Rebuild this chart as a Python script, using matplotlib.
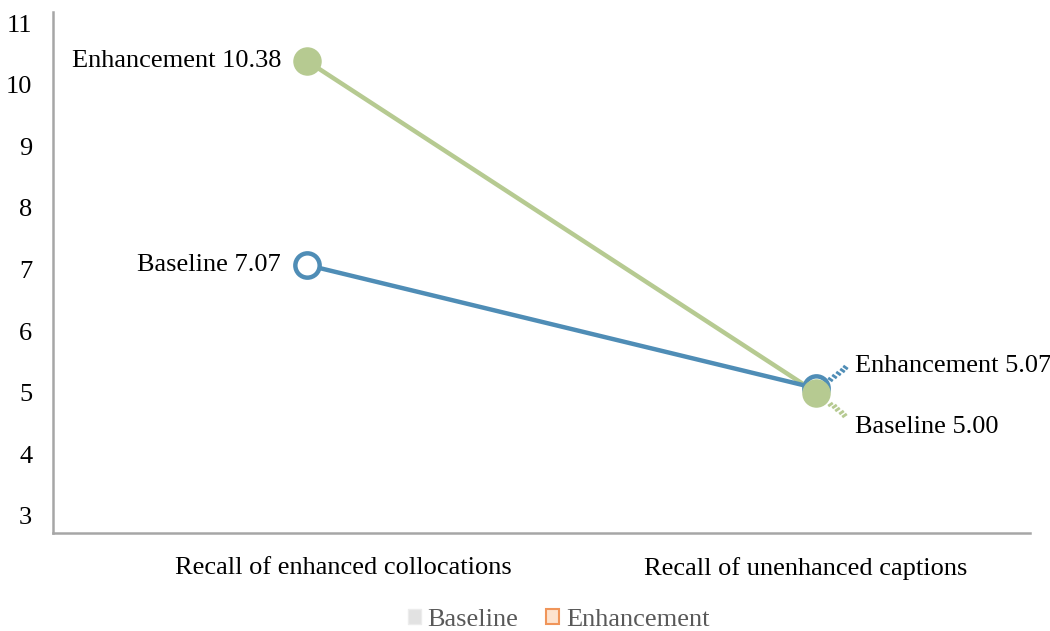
import matplotlib.pyplot as plt
from matplotlib.patches import Patch
from matplotlib.transforms import offset_copy

plt.rcParams['font.family'] = ['Liberation Serif', 'DejaVu Serif']

categories = ['Recall of enhanced collocations', 'Recall of unenhanced captions']
blue_values = [7.07, 5.07]
green_values = [10.38, 5.00]
blue_labels = ['Baseline 7.07', 'Enhancement 5.07']
green_labels = ['Enhancement 10.38', 'Baseline 5.00']
yticks = [3, 4, 5, 6, 7, 8, 9, 10, 11]
legend_names = ['Baseline', 'Enhancement']

blue = '#4f8db6'
green = '#b6ca91'
spine = '#a6a6a6'
fs = 19

fig = plt.figure(figsize=(10.5, 6.31), dpi=100)
ax = fig.add_axes([53 / 1050, 98 / 631, 977 / 1050, 521 / 631])

x = [0, 1]
ax.plot(x, green_values, color=green, lw=3.2, zorder=2)
ax.plot(x, blue_values, color=blue, lw=3.2, zorder=3)
ax.plot(x, blue_values, 'o', ms=17.5, mfc='white', mec=blue, mew=3.2, zorder=4)
ax.plot(x, green_values, 'o', ms=19.5, color=green, zorder=5)

# left side labels
ax.annotate(green_labels[0], (x[0], green_values[0]), xytext=(-19, 0),
            textcoords='offset points', ha='right', va='center', fontsize=fs)
ax.annotate(blue_labels[0], (x[0], blue_values[0]), xytext=(-19, 0),
            textcoords='offset points', ha='right', va='center', fontsize=fs)

# right side labels
ax.annotate(blue_labels[1], (x[1], blue_values[1]), xytext=(28, 16),
            textcoords='offset points', ha='left', va='center', fontsize=fs)
ax.annotate(green_labels[1], (x[1], green_values[1]), xytext=(28, -25),
            textcoords='offset points', ha='left', va='center', fontsize=fs)


def leader(xv, yv, p0, p1, color):
    # short dotted stub drawn in point offsets from the marker
    n = 5
    for i in range(n):
        fx = p0[0] + (p1[0] - p0[0]) * i / (n - 1)
        fy = p0[1] + (p1[1] - p0[1]) * i / (n - 1)
        tr = offset_copy(ax.transData, fig=fig, x=fx, y=fy, units='points')
        ax.plot([xv], [yv], marker=(2, 0, 55 if p1[1] > 0 else 125),
                ms=4, mew=2, color=color, transform=tr, zorder=3)


leader(x[1], blue_values[1], (10, 7), (21, 15.5), blue)
leader(x[1], green_values[1], (10, -8), (20, -16), green)

ax.set_xlim(-0.5, 1.42)
ax.set_ylim(2.72, 11.18)
ax.set_yticks(yticks)
ax.set_xticks([0.07, 0.98])
ax.set_xticklabels(categories)
ax.tick_params(length=0, labelsize=fs)
ax.tick_params(axis='y', pad=15)
ax.tick_params(axis='x', pad=17)
for s in ['top', 'right']:
    ax.spines[s].set_visible(False)
for s in ['left', 'bottom']:
    ax.spines[s].set_color(spine)
    ax.spines[s].set_linewidth(1.8)

handles = [Patch(facecolor='#e2e2e2', edgecolor='#ececec'),
           Patch(facecolor='#fde3cf', edgecolor='#f0955a', lw=1.5)]
leg = fig.legend(handles, legend_names, loc='center', bbox_to_anchor=(0.532, 0.017),
                 ncol=2, frameon=False, fontsize=fs, handlelength=0.5,
                 handleheight=0.5, handletextpad=0.25, columnspacing=1.05)
for t in leg.get_texts():
    t.set_color('#595959')

fig.savefig('out.png', dpi=100)
